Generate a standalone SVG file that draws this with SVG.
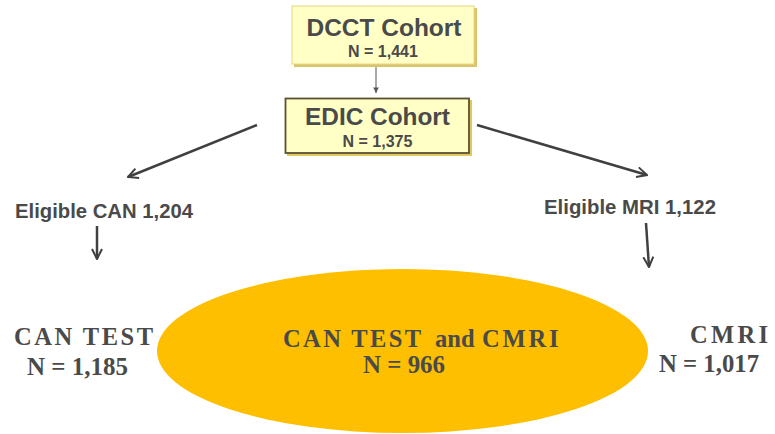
<svg xmlns="http://www.w3.org/2000/svg" width="775" height="434" viewBox="0 0 775 434">
<style>
.sans{font-family:"Liberation Sans",Arial,sans-serif;font-weight:bold;fill:#4a4a4a}
.serif{font-family:"Liberation Serif","Times New Roman",serif;font-weight:bold;fill:#4a4a4a;font-size:24.5px}
.conn{stroke:#404040;stroke-width:2.5;fill:none}
</style>
<defs>
<marker id="open" viewBox="0 0 10 10" refX="9" refY="5" markerWidth="5" markerHeight="5" orient="auto" markerUnits="strokeWidth">
<path d="M1,1 L9,5 L1,9" fill="none" stroke="#404040" stroke-width="1.6"/>
</marker>
<marker id="small" viewBox="0 0 10 10" refX="9" refY="5" markerWidth="7" markerHeight="7" orient="auto" markerUnits="strokeWidth">
<path d="M1,1 L9,5 L1,9 Z" fill="#555"/>
</marker>
</defs>
<rect width="775" height="434" fill="#fff"/>
<g id="connectors">
<line x1="376" y1="62" x2="376" y2="93" stroke="#555" stroke-width="1" marker-end="url(#small)"/>
<line class="conn" x1="257" y1="125" x2="128" y2="177" marker-end="url(#open)"/>
<line class="conn" x1="477" y1="125" x2="647" y2="175" marker-end="url(#open)"/>
<line class="conn" x1="97" y1="226" x2="97" y2="259" marker-end="url(#open)"/>
<line class="conn" x1="646" y1="223" x2="649" y2="267" marker-end="url(#open)"/>
</g>
<g id="dcct">
<rect x="294" y="8" width="183" height="59" fill="#D8C46A"/>
<rect x="292" y="6" width="182" height="58" fill="#FFFFC6" stroke="#E8D682" stroke-width="1"/>
<text class="sans" x="384" y="36" font-size="24.5" text-anchor="middle" textLength="155" lengthAdjust="spacingAndGlyphs">DCCT Cohort</text>
<text class="sans" x="383" y="57" font-size="16" text-anchor="middle">N = 1,441</text>
</g>
<g id="edic">
<rect x="287" y="100" width="185" height="56" fill="#E0C860"/>
<rect x="285.5" y="98.5" width="183.5" height="54.5" fill="#FFFFC6" stroke="#5A5030" stroke-width="1.8"/>
<text class="sans" x="377.5" y="125" font-size="24.4" text-anchor="middle" textLength="145" lengthAdjust="spacingAndGlyphs">EDIC Cohort</text>
<text class="sans" x="377.5" y="147" font-size="16" text-anchor="middle">N = 1,375</text>
</g>
<g id="eligible-can">
<text class="sans" x="15" y="218" font-size="20" textLength="178" lengthAdjust="spacingAndGlyphs">Eligible CAN 1,204</text>
</g>
<g id="eligible-mri">
<text class="sans" x="544" y="214" font-size="20" textLength="172" lengthAdjust="spacingAndGlyphs">Eligible MRI 1,122</text>
</g>
<g id="both">
<ellipse cx="402.5" cy="351" rx="245.5" ry="82" fill="#FDBF00"/>
<text class="serif" y="347"><tspan x="283" letter-spacing="2.4">CAN TEST</tspan><tspan x="435">and</tspan><tspan x="482" letter-spacing="2.8">CMRI</tspan></text>
<text class="serif" x="363" y="373" textLength="82" lengthAdjust="spacingAndGlyphs">N = 966</text>
</g>
<g id="can-test">
<text class="serif" x="14" y="345" textLength="139" lengthAdjust="spacing">CAN TEST</text>
<text class="serif" x="27" y="375" textLength="101" lengthAdjust="spacingAndGlyphs">N = 1,185</text>
</g>
<g id="cmri">
<text class="serif" x="690" y="343" textLength="78" lengthAdjust="spacing">CMRI</text>
<text class="serif" x="659" y="372" textLength="100" lengthAdjust="spacingAndGlyphs">N = 1,017</text>
</g>
</svg>
